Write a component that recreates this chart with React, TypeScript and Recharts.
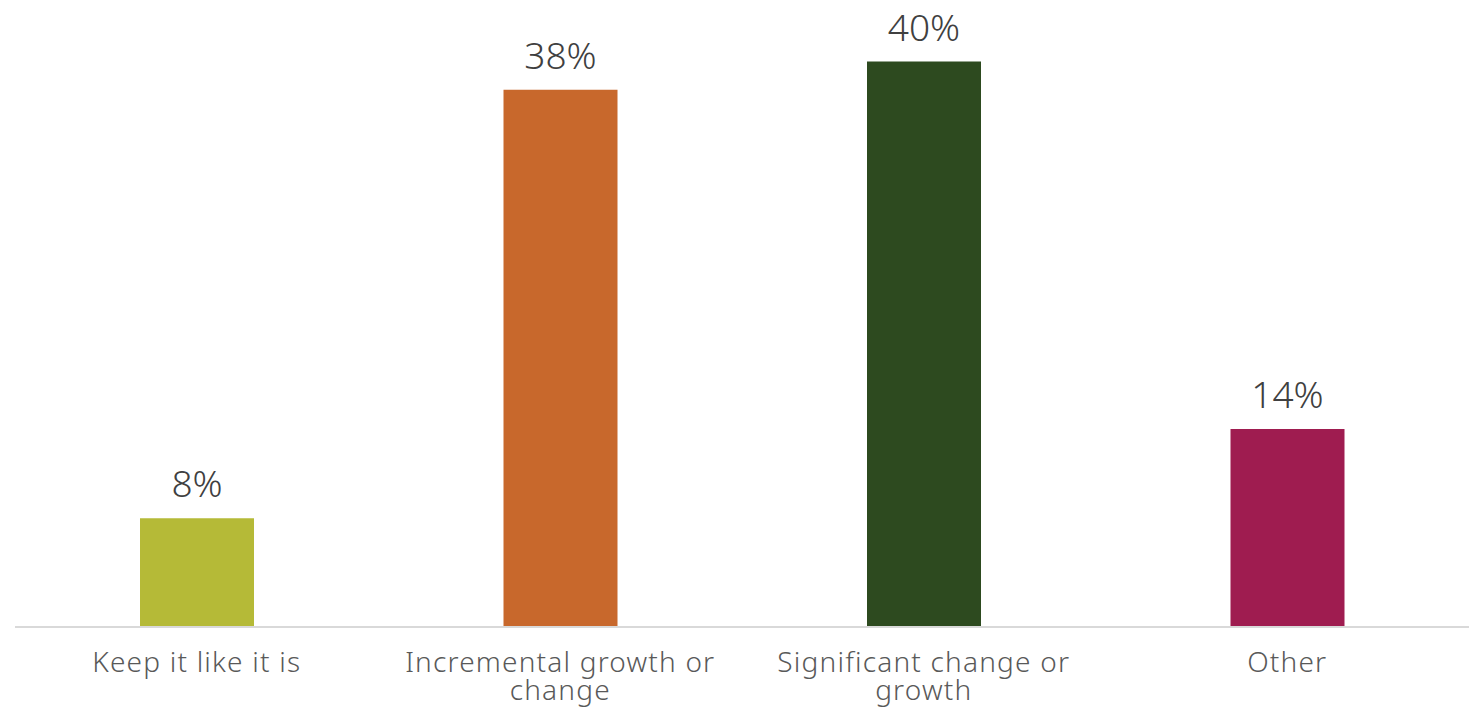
import { BarChart, Bar, XAxis, YAxis, Cell, LabelList } from "recharts";

const categories = [
  "Keep it like it is",
  "Incremental growth or change",
  "Significant change or growth",
  "Other",
];
const shares = [7.7, 38, 40, 14];
const barColors = ["#B5BA37", "#C8682C", "#2D4A1F", "#9F1C50"];

const data = categories.map((name, i) => ({ name, value: shares[i] }));

const FONT = "'Noto Sans', 'DejaVu Sans', sans-serif";
const MAX_CHARS = 21;

// greedy word wrap, the way the original labels break
function wrap(label: string): string[] {
  const lines: string[] = [];
  let cur = "";
  for (const w of label.split(" ")) {
    const next = cur ? `${cur} ${w}` : w;
    if (next.length > MAX_CHARS && cur) {
      lines.push(cur);
      cur = w;
    } else {
      cur = next;
    }
  }
  if (cur) lines.push(cur);
  return lines;
}

interface TickProps {
  x?: number;
  y?: number;
  payload?: { value: string };
}

function CategoryTick({ x, y, payload }: TickProps) {
  if (x === undefined || y === undefined || !payload) return null;
  const lines = wrap(payload.value);
  return (
    <text
      x={x}
      y={y + 37}
      textAnchor="middle"
      fill="#595959"
      style={{ fontFamily: FONT, fontSize: 28, fontWeight: 300, letterSpacing: 1.2 }}
    >
      {lines.map((line, i) => (
        <tspan key={i} x={x} dy={i === 0 ? 0 : 28}>
          {line}
        </tspan>
      ))}
    </text>
  );
}

export default function App() {
  return (
    <div style={{ position: "absolute", left: 0, top: 0, background: "#fff" }}>
      <BarChart
        width={1473}
        height={710}
        data={data}
        margin={{ top: 5, right: 4, left: 15, bottom: 0 }}
      >
        <XAxis
          dataKey="name"
          axisLine={{ stroke: "#D9D9D9", strokeWidth: 2 }}
          tickLine={false}
          interval={0}
          height={83}
          tick={<CategoryTick />}
        />
        <YAxis hide domain={[0, 44]} />
        <Bar dataKey="value" barSize={114} isAnimationActive={false}>
          {data.map((d, i) => (
            <Cell key={d.name} fill={barColors[i]} />
          ))}
          <LabelList
            dataKey="value"
            position="top"
            offset={21}
            formatter={(v: number) => `${Math.round(v)}%`}
            style={{ fontFamily: FONT, fontSize: 37, fill: "#404040", fontWeight: 300 }}
          />
        </Bar>
      </BarChart>
    </div>
  );
}
